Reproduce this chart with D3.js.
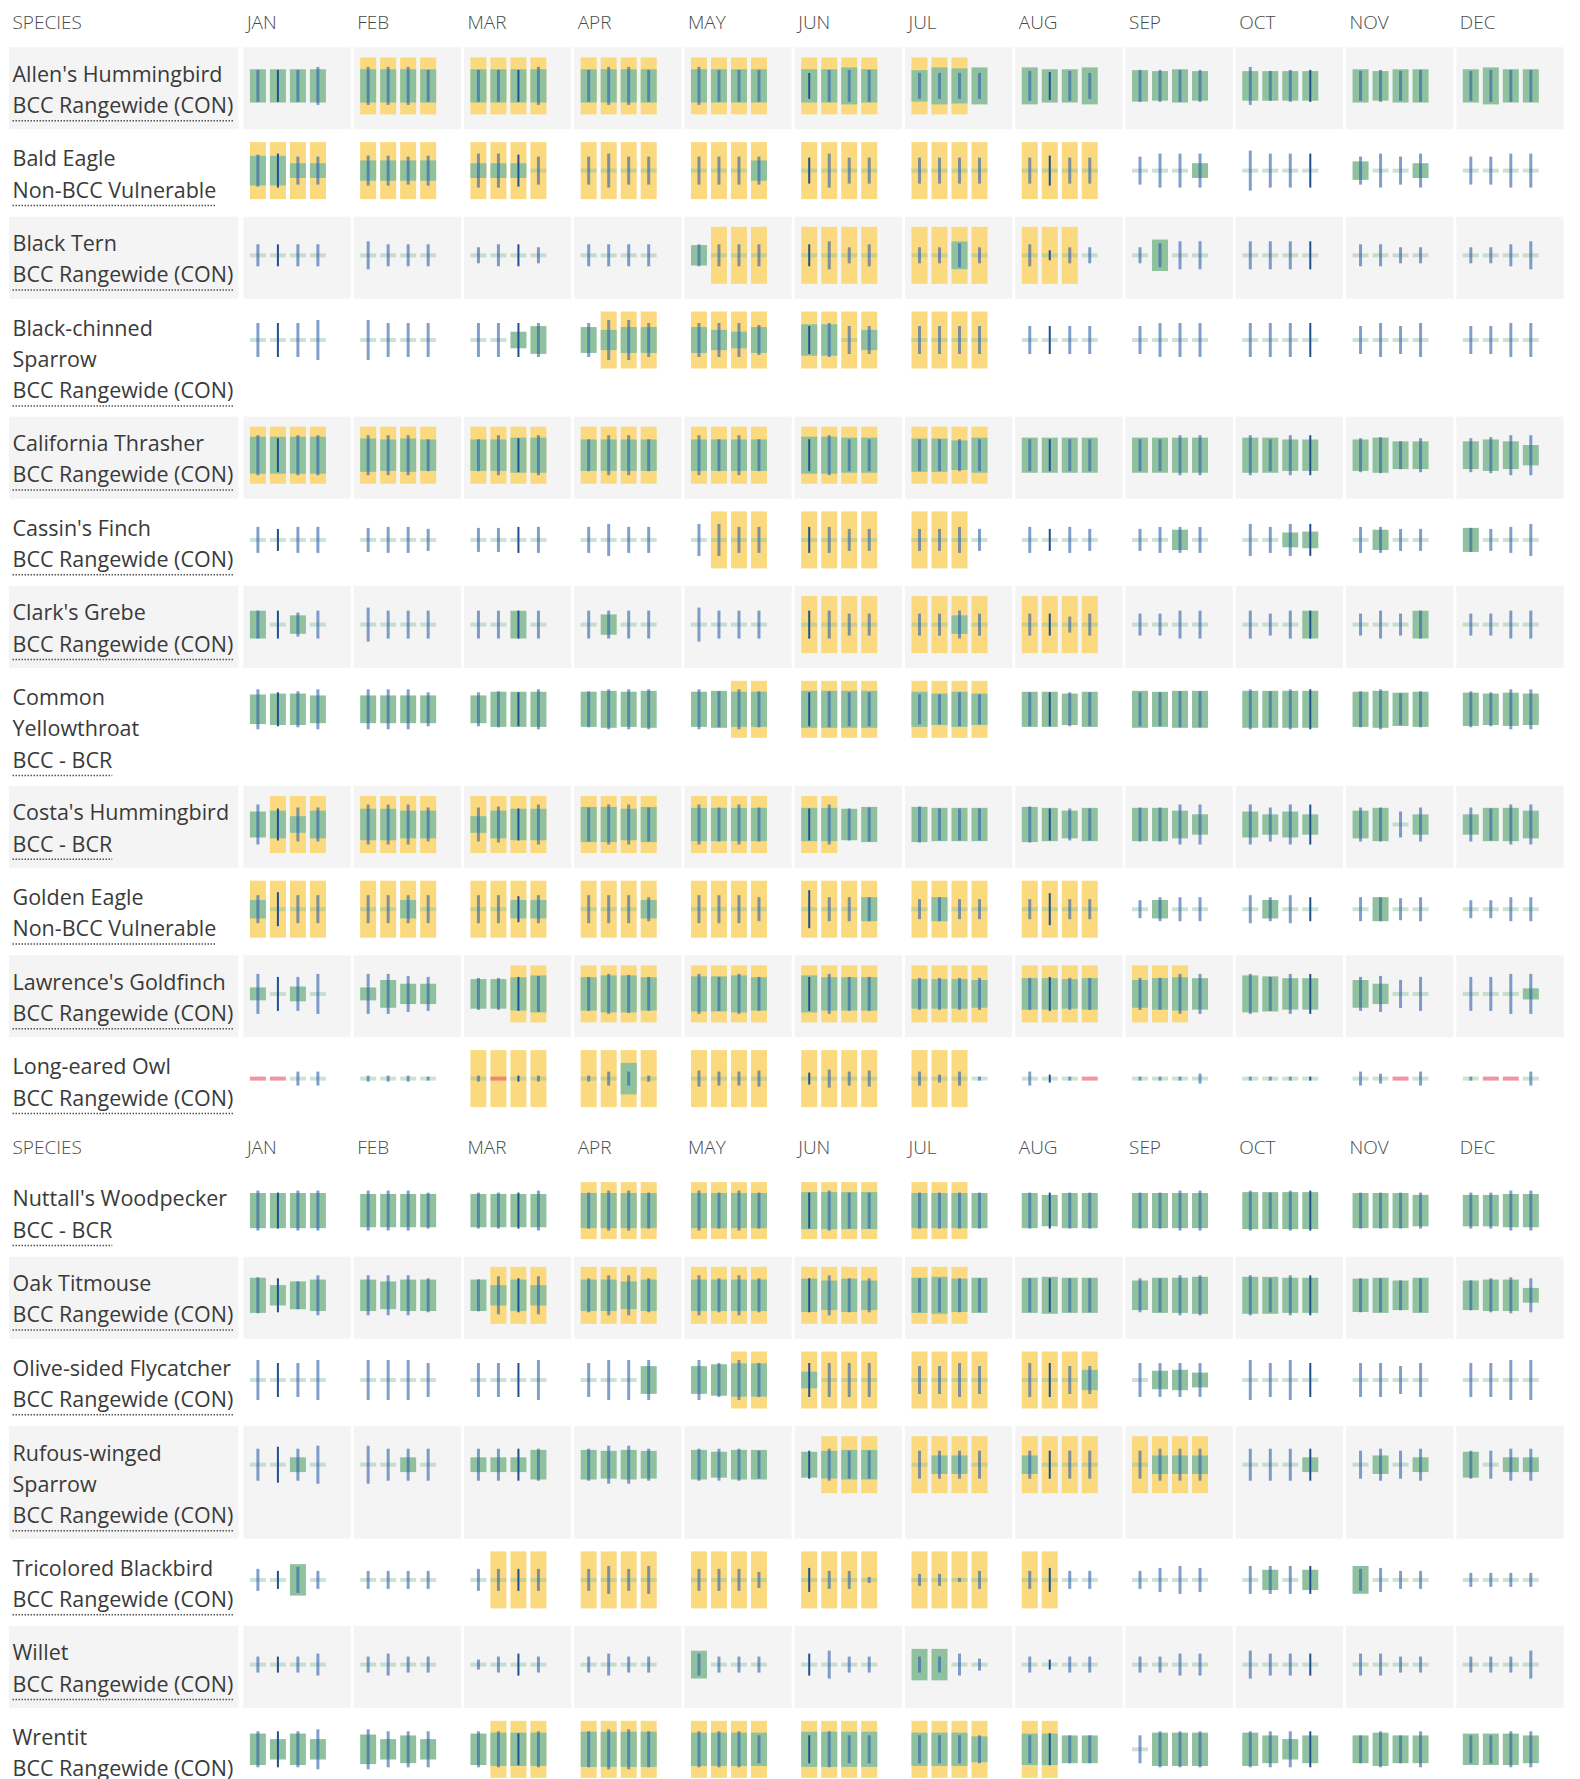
<!DOCTYPE html>
<html>
<head>
<meta charset="utf-8">
<script src="https://cdn.jsdelivr.net/npm/d3@7"></script>
<style>
  html, body { margin: 0; padding: 0; background: #fff; overflow: hidden; }
  svg { display: block; font-family: "Open Sans", "Noto Sans", sans-serif; }
</style>
</head>
<body>
<svg id="chart" width="1580" height="1779"></svg>
<script>
// ---- Data -------------------------------------------------------------
const months = ["JAN", "FEB", "MAR", "APR", "MAY", "JUN", "JUL", "AUG", "SEP", "OCT", "NOV", "DEC"];
const headerSpecies = "SPECIES";

// Species name, as wrapped in the label column
const speciesNameLines = [
  ["Allen's Hummingbird"],
  ["Bald Eagle"],
  ["Black Tern"],
  ["Black-chinned", "Sparrow"],
  ["California Thrasher"],
  ["Cassin's Finch"],
  ["Clark's Grebe"],
  ["Common", "Yellowthroat"],
  ["Costa's Hummingbird"],
  ["Golden Eagle"],
  ["Lawrence's Goldfinch"],
  ["Long-eared Owl"],
  ["Nuttall's Woodpecker"],
  ["Oak Titmouse"],
  ["Olive-sided Flycatcher"],
  ["Rufous-winged", "Sparrow"],
  ["Tricolored Blackbird"],
  ["Willet"],
  ["Wrentit"]
];

const speciesStatus = [
  "BCC Rangewide (CON)", "Non-BCC Vulnerable", "BCC Rangewide (CON)", "BCC Rangewide (CON)",
  "BCC Rangewide (CON)", "BCC Rangewide (CON)", "BCC Rangewide (CON)", "BCC - BCR",
  "BCC - BCR", "Non-BCC Vulnerable", "BCC Rangewide (CON)", "BCC Rangewide (CON)",
  "BCC - BCR", "BCC Rangewide (CON)", "BCC Rangewide (CON)", "BCC Rangewide (CON)",
  "BCC Rangewide (CON)", "BCC Rangewide (CON)", "BCC Rangewide (CON)"
];

// Species indices shown under each header row
const tableSections = [
  [0, 1, 2, 3, 4, 5, 6, 7, 8, 9, 10, 11],
  [12, 13, 14, 15, 16, 17, 18]
];

// Breeding season as [first week, last week] (week index 0-47), null when none
const breedingSeason = [
  [4, 26], [0, 31], [17, 30], [13, 27], [0, 27], [17, 26], [20, 31], [18, 27],
  [1, 21], [0, 31], [10, 34], [8, 26], [12, 26], [9, 26], [18, 31], [21, 35],
  [9, 29], null, [9, 29]
];

// Probability of presence per week (0-10)
const presence = [
  // Allen's Hummingbird
  [9,9,9,9, 9,9,9,9, 9,9,9,9, 9,9,9,9, 9,9,9,9, 9,9,10,9, 8.5,10,9.5,10, 10,9,9,10, 8.5,8,9,8, 8,8,8,8, 9,8,9,9, 9,10,9,9],
  // Bald Eagle
  [8,8,4,4, 5.5,5.5,5.5,5.5, 4,4,4,0, 0,0,0,0, 0,0,0,5.5, 0,0,0,0, 0,0,0,0, 0,0,0,0, 0,0,0,4, 0,0,0,0, 5,0,0,4, 0,0,0,0],
  // Black Tern
  [0,0,0,0, 0,0,0,0, 0,0,0,0, 0,0,0,0, 5.5,0,0,0, 0,0,0,0, 0,0,7.5,0, 0,0,0,0, 0,8.5,0,0, 0,0,0,0, 0,0,0,0, 0,0,0,0],
  // Black-chinned Sparrow
  [0,0,0,0, 0,0,0,0, 0,0,4.5,7.5, 7,5.5,7,7, 7,5.5,4.5,7, 8.5,8.5,0,5.5, 0,0,0,0, 0,0,0,0, 0,0,0,0, 0,0,0,0, 0,0,0,0, 0,0,0,0],
  // California Thrasher
  [10,10,10,10, 9,8.5,9,8.5, 8.5,8.5,9.5,9.5, 8.5,8.5,8.5,8.5, 8.5,8.5,8.5,8.5, 10,10,9.5,9.5, 9,9,8,9.5, 9.5,9.5,9.5,9.5, 9.5,9.5,9.5,9.5, 9.5,9.5,8.5,8.5, 8.5,9.5,7.5,7.5, 7.5,8.5,7.5,5.5],
  // Cassin's Finch
  [0,0,0,0, 0,0,0,0, 0,0,0,0, 0,0,0,0, 0,0,0,0, 0,0,0,0, 0,0,0,0, 0,0,0,0, 0,0,5.5,0, 0,0,4,4.5, 0,5.5,0,0, 6.5,0,0,0],
  // Clark's Grebe
  [7.5,0,5,0, 0,0,0,0, 0,0,7.5,0, 0,5.5,0,0, 0,0,0,0, 0,0,0,0, 0,0,5,0, 0,0,0,0, 0,0,0,0, 0,0,0,7.5, 0,0,0,7.5, 0,0,0,0],
  // Common Yellowthroat
  [8,8.5,8.5,7.5, 7.5,7.5,7.5,7.5, 7.5,9.5,9.5,9.5, 9.5,10,9.5,10, 9.5,10,9.5,9.5, 10,10,10,10, 9.5,8.5,9.5,8.5, 9.5,9.5,8.5,9.5, 10,9.5,10,10, 10,10,10,10, 9.5,10,9,9.5, 9,8.5,9,8.5],
  // Costa's Hummingbird
  [7,7.5,4.5,7.5, 8.5,8.5,7.5,7.5, 4.5,7.5,8.5,8.5, 9.5,9.5,8.5,9.5, 9,9,9,9, 9,9,8.5,9.5, 9.5,9,9,9, 9.5,9,7.5,9, 9,9,7.5,5.5, 7,5.5,7,5.5, 7.5,9,0,5.5, 5.5,9,9,7.5],
  // Golden Eagle
  [5,0,0,0, 0,0,5,0, 0,0,5,5, 0,0,0,5, 0,0,0,0, 0,0,0,6.5, 0,6.5,0,0, 0,0,0,0, 0,5,0,0, 0,5,0,0, 0,6.5,0,0, 0,0,0,0],
  // Lawrence's Goldfinch
  [3.5,0,4,0, 3.5,7.5,5.5,5.5, 8,8,9,10, 9,10,10,9, 9.5,9.5,10,9, 10,9,9,9, 8,8,8,7.5, 8.5,8.5,8,8.5, 7.5,8.5,9,8.5, 10,9.5,8.5,8.5, 7.5,5.5,0,0, 0,0,0,3],
  // Long-eared Owl
  [0,0,0,0, 0,0,0,0, 0,0,0,0, 0,0,8.5,0, 0,0,0,0, 0,0,0,0, 0,0,0,0, 0,0,0,0, 0,0,0,0, 0,0,0,0, 0,0,0,0, 0,0,0,0],
  // Nuttall's Woodpecker
  [9.5,9.5,9.5,9.5, 9,9,9,9, 9,9,9,9, 9.5,9.5,9.5,9.5, 9.5,9.5,9.5,9.5, 10,10,10,10, 9.5,9.5,9.5,9.5, 9.5,8.5,9.5,9.5, 9.5,9.5,9.5,9.5, 10,10,10,10, 9.5,9.5,9.5,8.5, 8.5,8.5,9,9],
  // Oak Titmouse
  [9.5,5.5,7.5,8.5, 8.5,7.5,8.5,8.5, 8.5,5.5,8.5,5.5, 8.5,8.5,7.5,8.5, 8.5,8.5,8.5,8.5, 9,8,9,8, 9.5,10,9,9.5, 9.5,10,9.5,9.5, 8,9.5,9.5,10, 10,10,9.5,9.5, 9,9.5,8,9.5, 8,8.5,8.5,4],
  // Olive-sided Flycatcher
  [0,0,0,0, 0,0,0,0, 0,0,0,0, 0,0,0,7.5, 7.5,8.5,9,9, 4.5,0,0,0, 0,0,0,0, 0,0,0,5.5, 0,5,5.5,4, 0,0,0,0, 0,0,0,0, 0,0,0,0],
  // Rufous-winged Sparrow
  [0,0,4,0, 0,0,4,0, 4,4,4,8, 8,7.5,8,7.5, 8,7,8,8, 7,7.5,8,8, 0,5,5,0, 5,0,0,0, 0,5,5,5, 0,0,0,4, 0,5,0,4, 7,0,4,4],
  // Tricolored Blackbird
  [0,0,8.5,0, 0,0,0,0, 0,0,0,0, 0,0,0,0, 0,0,0,0, 0,0,0,0, 0,0,0,0, 0,0,0,0, 0,0,0,0, 0,5.5,0,5.5, 7.5,0,0,0, 0,0,0,0],
  // Willet
  [0,0,0,0, 0,0,0,0, 0,0,0,0, 0,0,0,0, 7.5,0,0,0, 0,0,0,0, 8.5,8.5,0,0, 0,0,0,0, 0,0,0,0, 0,0,0,0, 0,0,0,0, 0,0,0,0],
  // Wrentit
  [8.5,5.5,8.5,5.5, 8,5.5,7.5,5.5, 8.5,9,9,9, 9.5,9.5,9.5,9.5, 9,9,9,9, 9.5,9.5,9.5,9.5, 9,9,9,7, 8.5,8.5,7.5,7.5, 0,9,9,9, 9,7.5,5.5,7.5, 7.5,9,7.5,7.5, 8.5,8.5,8.5,7.5]
];

// Survey effort per week (0-10), null where no data
const surveyEffort = [
  // Allen's Hummingbird
  [8,8,8,9.5, 9.5,9.5,9.5,8, 8,8,8,9.5, 8,9.5,9.5,8, 9.5,8,8,8, 6.5,8,8,8, 6.5,6.5,6.5,6.5, 7.5,7,7.5,6.5, 8,8,8,8, 9.5,7.5,8,8, 7.5,8,7.5,8, 7.5,8,8,8],
  // Bald Eagle
  [8,8.5,7,7, 7.5,7.5,7,7.5, 8.5,8.5,8,7, 7,8.5,7,7, 7,7,7,7, 6.5,8.5,6.5,6.5, 6.5,6.5,6.5,6.5, 6.5,7.5,6.5,6.5, 7,8.5,8.5,8.5, 10,8.5,8.5,8.5, 7,8.5,7,8.5, 7,7,8.5,8.5],
  // Black Tern
  [5.5,5.5,5.5,5.5, 7,5.5,5.5,5.5, 4,5.5,5.5,4, 5.5,5.5,5.5,5.5, 5.5,5.5,5.5,5.5, 5.5,7,4,5.5, 4,4,6,4, 5.5,2.5,4,4, 4,6,7,7, 7,7,7,7, 5.5,5.5,4,4, 4,4,5.5,7],
  // Black-chinned Sparrow
  [8.5,8.5,8.5,10, 10,8.5,8.5,8.5, 8.5,8.5,8.5,8.5, 8.5,10,10,8.5, 8.5,8.5,8.5,7.5, 7,8.5,7,7, 7,7,7,7, 7,7,7,7, 7,8.5,8.5,8.5, 8.5,8.5,8.5,8.5, 7,8.5,7,8.5, 7,7,8.5,8.5],
  // California Thrasher
  [10,8.5,10,10, 10,10,10,8, 8,10,8.5,10, 8,10,10,8, 10,8,10,8, 8,10,8,8, 8,8,8,8, 8,8,8,8, 8,8,10,10, 10,8,10,10, 8.5,9,7,8.5, 8.5,9,10,10],
  // Cassin's Finch
  [6.5,5.5,6.5,6.5, 6,6.5,6.5,5.5, 6,6,6.5,6.5, 6.5,8,6.5,6.5, 8,8,6.5,6.5, 6.5,6.5,5.5,5.5, 5.5,5.5,6.5,5.5, 6.5,5.5,6.5,5.5, 5.5,6.5,6.5,6.5, 8,6.5,8,8, 6.5,6.5,5.5,5.5, 6,5.5,6.5,8],
  // Clark's Grebe
  [7,7,6,7, 8.5,7,7,7, 7,7,7,7, 7,7,7,7, 8.5,7,7,7, 7,7,5.5,5.5, 5.5,5.5,7,5.5, 5.5,5.5,4,5.5, 5.5,5.5,7,7, 7,5.5,7,7, 5.5,7,5.5,7, 5.5,5.5,7,7],
  // Common Yellowthroat
  [10,8.5,9,10, 10,10,10,8.5, 8.5,9,8.5,10, 9,10,10,10, 10,9,10,9, 8.5,9,8.5,8.5, 7.5,7.5,8.5,7.5, 8.5,8.5,8.5,8.5, 8.5,8.5,9,9, 10,9,10,10, 9,10,8,9, 9,8.5,10,10],
  // Costa's Hummingbird
  [10,8,8.5,8.5, 10,10,10,8.5, 8.5,9,8,10, 8.5,10,10,8.5, 10,8.5,10,8.5, 8,10,8,8.5, 9,8,8,8, 9,8,8,8, 8.5,8.5,10,10, 10,8.5,10,10, 8.5,8.5,6.5,8.5, 8.5,8,10,10],
  // Golden Eagle
  [7,8.5,7,7, 7,7,7,7, 7,7,6.5,7, 7,7,7,6, 7,7,7,6, 9.5,6,6,6, 5,6,5,5, 5,8,5,5, 4.5,6,6,6, 7,6,7,6, 6,6,5.5,6, 4.5,4.5,6,6],
  // Lawrence's Goldfinch
  [10,8.5,8.5,10, 10,10,9,8.5, 8,8,8.5,9, 8.5,10,9.5,8.5, 10,8.5,10,8.5, 8.5,10,8.5,8.5, 8,8,8,8, 8,8.5,8,8, 8,8,10,10, 10,8.5,10,10, 8.5,9,7,8.5, 8.5,8.5,10,10],
  // Long-eared Owl
  [null,null,3.5,3.5, 1.5,1.5,1.5,1, 1.5,null,1.5,1.5, 1.5,3.5,3.5,1.5, 4,3.5,3.5,4, 3,4.5,3.5,4, 3.5,2,3.5,1, 3.5,2,1,null, 1,1,1,2.5, 1,1,1,1, 3.5,2.5,null,3.5, 1,null,null,3.5],
  // Nuttall's Woodpecker
  [10,9,10,10, 10,10,10,9, 9,9,9,10, 9,10,10,9, 10,9,10,9, 9,10,9,9, 9,9,9,9, 9,9,9,9, 9,9,10,10, 10,9,10,10, 9,9,9,9, 9,9,10,10],
  // Oak Titmouse
  [9,8.5,7,10, 10,10,10,8.5, 8,9.5,8.5,9.5, 8.5,10,10,8.5, 10,8.5,10,8.5, 8.5,10,8.5,8.5, 8.5,8.5,8.5,8.5, 8.5,8.5,8.5,8.5, 8.5,8.5,10,10, 10,8.5,10,10, 8.5,8.5,7.5,8.5, 7.5,8.5,9,8.5],
  // Olive-sided Flycatcher
  [10,8.5,8.5,10, 10,10,10,8.5, 8.5,8.5,8.5,10, 8.5,10,10,10, 10,8.5,10,8.5, 8.5,8.5,8.5,8.5, 7,7,8.5,7, 8.5,8.5,7,7, 8.5,8.5,8.5,8.5, 10,8.5,10,8.5, 8.5,8.5,7,8.5, 8.5,8.5,10,10],
  // Rufous-winged Sparrow
  [8,9,8,9.5, 9.5,8,8,8, 8,8,8,8, 8,9.5,9.5,8, 8,8,8,7, 7,8,7,7, 7,7,7,7, 7,7,7,7, 7,8,8,8, 8,8,8,8, 7,8,7,8, 7,7,8,8],
  // Tricolored Blackbird
  [5.5,4.5,6.5,4.5, 4.5,4.5,4.5,4.5, 5.5,5.5,5.5,5.5, 5.5,7,5.5,7, 5.5,5.5,5.5,4, 6,4.5,4.5,1.5, 3,3,1,4.5, 4.5,6,4.5,4.5, 4.5,6,7,6, 7,7,7,7, 5.5,6,4.5,4.5, 3.5,3.5,3.5,3.5],
  // Willet
  [4,4,4,5.5, 4,5.5,4,4, 2.5,4,5.5,4, 4,5.5,4,4, 5.5,4,4,4, 5.5,7,4,4, 4,4,5.5,3, 4,2.5,4,4, 4,4,5.5,5.5, 7,5.5,5.5,5.5, 5.5,5.5,4,4, 4,4,4,7],
  // Wrentit
  [9,9,9,10, 10,9,9,9, 9,9,8,9, 9,10,10,9, 9,9,9,7, 7,9,7,7, 7,7,7,7, 7,8,7,7, 7,9,9,9, 9,9,9,9, 7,9,7,9, 7,7,9,9]
];

// ---- Drawing ----------------------------------------------------------
const svg = d3.select("#chart");

const COLORS = {
  stripe: "#f4f4f4",
  breeding: "#fad97f",
  presence: "#8fc19f",
  effort: "rgba(45,95,170,0.6)",
  effortCrisp: "#1f4f8f",
  noData: "rgba(235,90,110,0.65)",
  label: "#3a3a3a",
  header: "#4a4a4a"
};

const LABEL_X = 9, LABEL_W = 229.4, TEXT_X = 12.5;
const HEADER_H = 47.3, ROW_GAP = 2.7, BASE_ROW_H = 82, EXTRA_LINE_H = 30.5;
const LINE_PITCH = 31.3, FIRST_BASELINE = 34.4, CHART_CY = 38.6;
const BREED_H = 57, ZERO_H = 4;
// weeks whose effort line lands on whole pixels and renders crisp and dark
const crispWeeks = new Set([1, 10, 20, 29, 39]);

const monthX = d3.scaleBand().domain(months).range([243.4, 1563.6]).paddingInner(0.027);
const weekX = d3.scaleBand().domain([0, 1, 2, 3]).range([6.5, 82.5]).paddingInner(0.2);
const presenceH = d3.scaleLinear().domain([0, 10]).range([0, 37]);
const effortH = d3.scaleLinear().domain([0, 10]).range([0, 40]);

function weekLeft(i) {
  return monthX(months[Math.floor(i / 4)]) + weekX(i % 4);
}

let y = 0;
tableSections.forEach((rows, s) => {
  // header row
  const hdr = svg.append("g").attr("class", "header");
  hdr.append("text")
    .attr("x", TEXT_X).attr("y", y + 29.3)
    .attr("font-size", 19).attr("font-weight", 300).attr("fill", COLORS.header)
    .text(headerSpecies);
  hdr.selectAll("text.month").data(months).join("text")
    .attr("class", "month")
    .attr("x", d => monthX(d) + 3.5).attr("y", y + 29.3)
    .attr("font-size", 19).attr("font-weight", 300).attr("fill", COLORS.header)
    .text(d => d);
  y += HEADER_H;

  rows.forEach((sp, r) => {
    const lines = speciesNameLines[sp].concat([speciesStatus[sp]]);
    const h = BASE_ROW_H + (lines.length - 2) * EXTRA_LINE_H;
    const top = y;
    const cy = top + CHART_CY;
    const g = svg.append("g").attr("class", "row");
    const striped = (r + s) % 2 === 0;

    if (striped) {
      g.append("rect").attr("x", LABEL_X).attr("y", top)
        .attr("width", LABEL_W).attr("height", h).attr("fill", COLORS.stripe);
      g.selectAll("rect.cell").data(months).join("rect")
        .attr("class", "cell")
        .attr("x", d => monthX(d)).attr("y", top)
        .attr("width", monthX.bandwidth()).attr("height", h)
        .attr("fill", COLORS.stripe);
    }

    // label text, the status line carries a dotted underline
    lines.forEach((t, k) => {
      const txt = g.append("text")
        .attr("x", TEXT_X).attr("y", top + FIRST_BASELINE + k * LINE_PITCH)
        .attr("font-size", 21.5).attr("fill", COLORS.label)
        .text(t);
      if (k === lines.length - 1) {
        const len = txt.node().getComputedTextLength();
        const uy = top + FIRST_BASELINE + k * LINE_PITCH + 7.7;
        g.append("line")
          .attr("x1", TEXT_X).attr("x2", TEXT_X + len)
          .attr("y1", uy).attr("y2", uy)
          .attr("stroke", "#555").attr("stroke-width", 1.5)
          .attr("stroke-dasharray", "1.5 1.5");
      }
    });

    const weeks = d3.range(48).map(i => ({
      i,
      p: presence[sp][i],
      e: surveyEffort[sp][i],
      breeding: breedingSeason[sp] !== null && i >= breedingSeason[sp][0] && i <= breedingSeason[sp][1]
    }));
    const bw = weekX.bandwidth();

    // breeding season
    g.selectAll("rect.breed").data(weeks.filter(d => d.breeding)).join("rect")
      .attr("class", "breed")
      .attr("x", d => weekLeft(d.i)).attr("y", cy - BREED_H / 2)
      .attr("width", bw).attr("height", BREED_H)
      .attr("fill", COLORS.breeding);

    // probability of presence
    g.selectAll("rect.pres").data(weeks.filter(d => d.p > 0)).join("rect")
      .attr("class", "pres")
      .attr("x", d => weekLeft(d.i)).attr("y", d => cy - presenceH(d.p) / 2)
      .attr("width", bw).attr("height", d => presenceH(d.p))
      .attr("fill", COLORS.presence);

    // zero presence baseline
    g.selectAll("rect.zero").data(weeks.filter(d => d.p === 0 && d.e !== null)).join("rect")
      .attr("class", "zero")
      .attr("x", d => weekLeft(d.i)).attr("y", cy - ZERO_H / 2)
      .attr("width", bw).attr("height", ZERO_H)
      .attr("fill", COLORS.presence).attr("fill-opacity", 0.45);

    // no survey data
    g.selectAll("rect.nodata").data(weeks.filter(d => d.e === null)).join("rect")
      .attr("class", "nodata")
      .attr("x", d => weekLeft(d.i)).attr("y", cy - ZERO_H / 2)
      .attr("width", bw).attr("height", ZERO_H)
      .attr("fill", COLORS.noData);

    // survey effort
    g.selectAll("line.effort").data(weeks.filter(d => d.e !== null)).join("line")
      .attr("class", "effort")
      .attr("x1", d => weekLeft(d.i) + bw / 2).attr("x2", d => weekLeft(d.i) + bw / 2)
      .attr("y1", d => cy - effortH(d.e) / 2).attr("y2", d => cy + effortH(d.e) / 2)
      .attr("stroke", d => crispWeeks.has(d.i) ? COLORS.effortCrisp : COLORS.effort)
      .attr("stroke-width", d => crispWeeks.has(d.i) ? 2 : 3);

    y += h + ROW_GAP;
  });
});
</script>
</body>
</html>
